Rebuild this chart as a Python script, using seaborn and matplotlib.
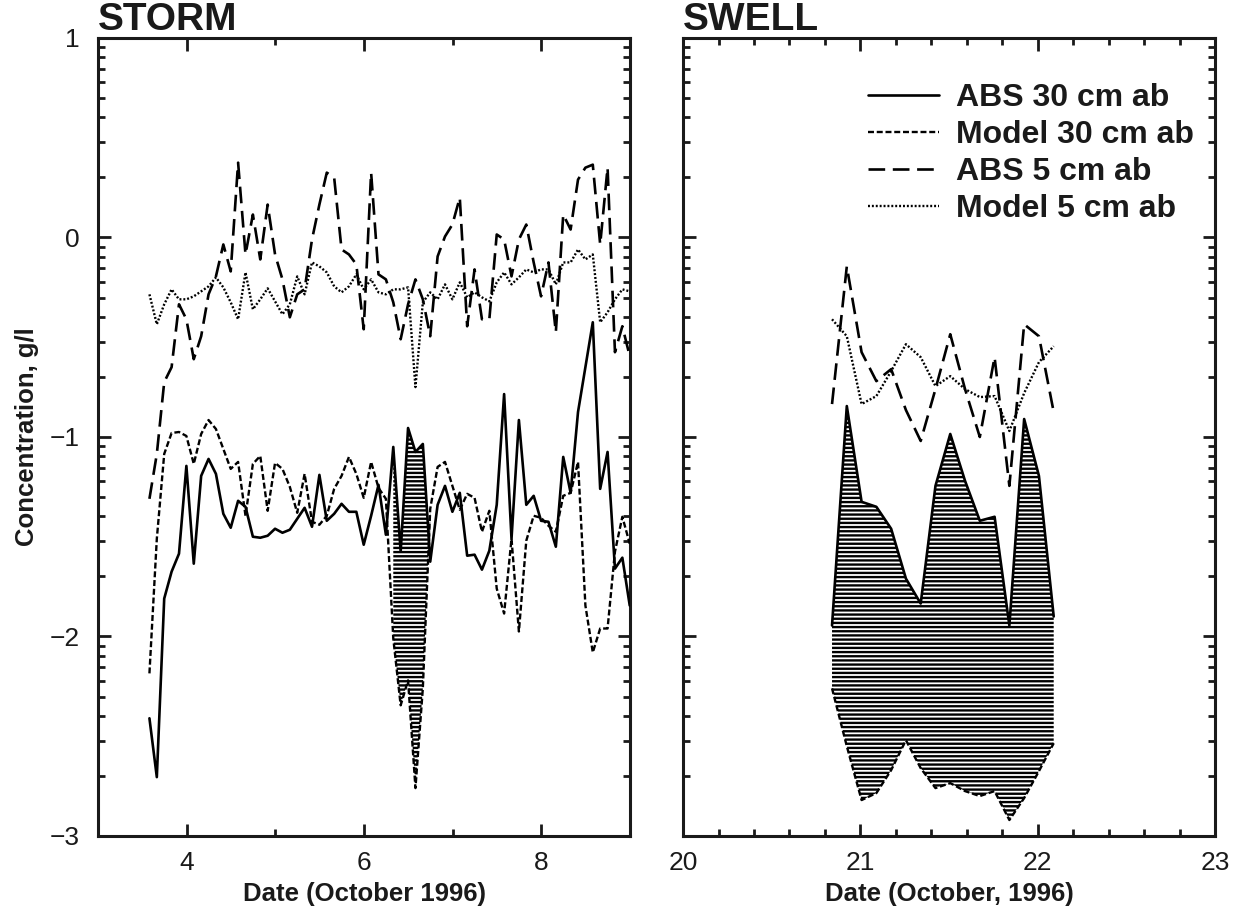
import numpy as np
import pandas as pd
import matplotlib
matplotlib.use("Agg")
import matplotlib.pyplot as plt
from matplotlib.ticker import FixedLocator, MultipleLocator
import seaborn as sns

# ---- STORM record: 2-hourly samples starting 3.58 October 1996 ----
storm_start = 3.58
storm_abs30 = [-2.41, -2.705, -1.81, -1.675, -1.585, -1.145, -1.635, -1.195, -1.11, -1.185,
               -1.385, -1.455, -1.32, -1.35, -1.5, -1.505, -1.495, -1.46, -1.48, -1.465,
               -1.41, -1.355, -1.45, -1.19, -1.42, -1.385, -1.335, -1.375, -1.375, -1.54,
               -1.395, -1.24, -1.49, -1.05, -1.575, -0.955, -1.075, -1.035, -1.625, -1.34,
               -1.245, -1.375, -1.28, -1.595, -1.59, -1.665, -1.57, -1.34, -0.785, -1.51,
               -0.915, -1.34, -1.295, -1.42, -1.425, -1.55, -1.10, -1.28, -0.875, -0.65,
               -0.425, -1.26, -1.075, -1.66, -1.605, -1.845]
storm_mod30 = [-2.185, -1.51, -1.085, -0.98, -0.975, -0.995, -1.135, -0.985, -0.915, -0.96,
               -1.06, -1.16, -1.125, -1.395, -1.135, -1.095, -1.37, -1.13, -1.16, -1.25,
               -1.38, -1.185, -1.425, -1.44, -1.395, -1.26, -1.195, -1.10, -1.185, -1.305,
               -1.125, -1.255, -1.31, -2.01, -2.345, -2.22, -2.76, -2.26, -1.36, -1.15,
               -1.125, -1.245, -1.365, -1.285, -1.305, -1.475, -1.37, -1.76, -1.885, -1.51,
               -1.975, -1.52, -1.395, -1.405, -1.445, -1.475, -1.295, -1.28, -1.125, -1.845,
               -2.08, -1.96, -1.96, -1.575, -1.40, -1.535]
storm_abs5 = [-1.31, -1.085, -0.725, -0.65, -0.335, -0.41, -0.61, -0.495, -0.285, -0.195,
              -0.035, -0.17, 0.375, -0.085, 0.115, -0.11, 0.165, -0.085, -0.21, -0.40,
              -0.285, -0.26, -0.01, 0.165, 0.325, 0.30, -0.06, -0.085, -0.135, -0.46,
              0.325, -0.185, -0.21, -0.325, -0.51, -0.335, -0.21, -0.31, -0.495, -0.095,
              0.005, 0.065, 0.20, -0.445, -0.16, -0.41, -0.41, 0.015, -0.01, -0.195,
              -0.01, 0.065, -0.125, -0.295, -0.125, -0.475, 0.115, 0.04, 0.29, 0.35,
              0.365, -0.035, 0.35, -0.575, -0.445, -0.595]
storm_mod5 = [-0.285, -0.435, -0.335, -0.26, -0.31, -0.31, -0.295, -0.27, -0.245, -0.20,
              -0.25, -0.325, -0.41, -0.175, -0.36, -0.31, -0.255, -0.32, -0.385, -0.335,
              -0.195, -0.285, -0.125, -0.145, -0.175, -0.245, -0.275, -0.245, -0.185, -0.26,
              -0.21, -0.275, -0.285, -0.26, -0.26, -0.25, -0.75, -0.325, -0.275, -0.31,
              -0.235, -0.31, -0.225, -0.30, -0.275, -0.30, -0.32, -0.225, -0.175, -0.235,
              -0.20, -0.16, -0.175, -0.16, -0.16, -0.235, -0.125, -0.125, -0.06, -0.11,
              -0.085, -0.425, -0.375, -0.31, -0.26, -0.27]
storm_shade = (33, 38)   # sample range shaded between ABS and model at 30 cm

# ---- SWELL record: 2-hourly samples starting 20.84 October 1996 ----
swell_start = 20.84
swell_abs30 = [-1.945, -0.845, -1.325, -1.35, -1.46, -1.71, -1.835, -1.245, -0.985, -1.22,
               -1.42, -1.40, -1.945, -0.91, -1.195, -1.90]
swell_mod30 = [-2.26, -2.55, -2.82, -2.785, -2.67, -2.52, -2.66, -2.76, -2.735, -2.775,
               -2.80, -2.775, -2.92, -2.81, -2.675, -2.535]
swell_abs5 = [-0.835, -0.145, -0.575, -0.72, -0.66, -0.865, -1.02, -0.76, -0.485, -0.76,
              -1.0, -0.60, -1.245, -0.435, -0.495, -0.875]
swell_mod5 = [-0.41, -0.495, -0.835, -0.795, -0.67, -0.535, -0.60, -0.745, -0.695, -0.76,
              -0.80, -0.795, -0.97, -0.78, -0.625, -0.545]

sample_hours = 2.0
series_names = ["ABS 30 cm ab", "Model 30 cm ab", "ABS 5 cm ab", "Model 5 cm ab"]

sns.set_theme(style="ticks")
plt.rcParams["font.family"] = ["Liberation Sans", "DejaVu Sans"]
plt.rcParams["lines.scale_dashes"] = False
plt.rcParams["hatch.linewidth"] = 1.7
plt.rcParams["axes.unicode_minus"] = True

ink = "#1a1a1a"
styles = {
    "ABS 30 cm ab": dict(linestyle="-", linewidth=1.9),
    "Model 30 cm ab": dict(linestyle=(0, (4.3, 2.0)), linewidth=1.7),
    "ABS 5 cm ab": dict(linestyle=(0, (12.0, 5.5)), linewidth=1.9),
    "Model 5 cm ab": dict(linestyle=(0, (1.4, 1.4)), linewidth=1.7),
}


def make_frame(start, abs30, mod30, abs5, mod5):
    n = len(abs30)
    t = start + np.arange(n) * sample_hours / 24.0
    return pd.DataFrame({"t": t, "ABS 30 cm ab": abs30, "Model 30 cm ab": mod30,
                         "ABS 5 cm ab": abs5, "Model 5 cm ab": mod5})


storm = make_frame(storm_start, storm_abs30, storm_mod30, storm_abs5, storm_mod5)
swell = make_frame(swell_start, swell_abs30, swell_mod30, swell_abs5, swell_mod5)

fig = plt.figure(figsize=(12.39, 9.22), dpi=100)
ax1 = fig.add_axes([0.0791, 0.0933, 0.4294, 0.8655])
ax2 = fig.add_axes([0.5513, 0.0933, 0.4294, 0.8655])

minor_y = [n + np.log10(k) for n in range(-3, 1) for k in range(2, 10)]


def draw(ax, df, shade, labelled):
    sub = df.iloc[shade[0]:shade[1] + 1]
    ax.fill_between(sub["t"], sub["ABS 30 cm ab"], sub["Model 30 cm ab"],
                    facecolor="white", edgecolor="black", hatch="----",
                    linewidth=0, zorder=1)
    for name in series_names:
        sns.lineplot(data=df, x="t", y=name, ax=ax, color="black", sort=False,
                     estimator=None, label=name if labelled else None,
                     legend=False, zorder=3, **styles[name])
    ax.set_ylim(-3, 1)
    ax.yaxis.set_major_locator(FixedLocator([-3, -2, -1, 0, 1]))
    ax.yaxis.set_minor_locator(FixedLocator(minor_y))
    ax.tick_params(which="both", direction="in", top=True, right=True,
                   width=2.0, colors=ink, labelsize=19, labelcolor=ink)
    ax.tick_params(axis="y", pad=13)
    ax.tick_params(axis="x", pad=11)
    ax.tick_params(which="major", length=9)
    ax.tick_params(which="minor", length=5)
    for sp in ax.spines.values():
        sp.set_linewidth(2.2)
        sp.set_color(ink)
    ax.set_ylabel("")


draw(ax1, storm, storm_shade, False)
draw(ax2, swell, (0, len(swell_abs30) - 1), True)

ax1.set_xlim(3, 9)
ax1.xaxis.set_major_locator(MultipleLocator(2))
ax1.xaxis.set_minor_locator(MultipleLocator(1))
ax2.set_xlim(20, 23)
ax2.xaxis.set_major_locator(MultipleLocator(1))
ax2.xaxis.set_minor_locator(MultipleLocator(0.2))
ax2.tick_params(labelleft=False)

lab_kw = dict(fontsize=18.5, fontweight="bold", color=ink)
ax1.set_xlabel("Date (October 1996)", labelpad=5, **lab_kw)
ax2.set_xlabel("Date (October, 1996)", labelpad=5, **lab_kw)
ax1.set_ylabel("Concentration, g/l", labelpad=8, **lab_kw)

title_kw = dict(loc="left", fontsize=28, fontweight="bold", pad=-2, color=ink)
ax1.set_title("STORM", **title_kw)
ax2.set_title("SWELL", **title_kw)

handles, labels = ax2.get_legend_handles_labels()
leg = ax2.legend(handles, labels, loc="upper right", bbox_to_anchor=(0.997, 0.968),
                 frameon=False, prop=dict(size=23, weight="bold"), handlelength=2.2,
                 handletextpad=0.55, labelspacing=0.22, borderaxespad=0.2,
                 labelcolor=ink)

fig.savefig("out.png", dpi=100, facecolor="white")
